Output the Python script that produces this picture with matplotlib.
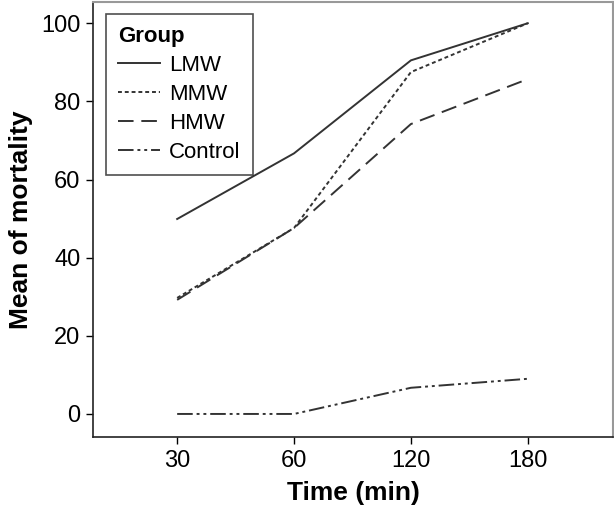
import matplotlib
matplotlib.use("Agg")
from matplotlib import pyplot as plt

plt.rcParams['font.family'] = ['Liberation Sans', 'DejaVu Sans']

times = ["30", "60", "120", "180"]
lmw = [49.9, 66.7, 90.5, 100.0]
mmw = [29.7, 47.6, 87.5, 100.0]
hmw = [29.2, 47.6, 74.2, 85.7]
control = [0.0, 0.0, 6.7, 9.0]

x = range(len(times))
line_color = "#333333"

fig = plt.figure(figsize=(6.14, 5.11), dpi=100)
ax = fig.add_axes([0.1515, 0.1448, 0.847, 0.851])

ax.plot(x, lmw, color=line_color, lw=1.4, linestyle="-", label="LMW")
ax.plot(x, mmw, color=line_color, lw=1.4, linestyle=(0, (2, 1.5)), label="MMW")
ax.plot(x, hmw, color=line_color, lw=1.4, linestyle=(0, (8, 4)), label="HMW")
ax.plot(x, control, color=line_color, lw=1.4, linestyle=(0, (8, 2, 1.5, 2, 1.5, 2)), label="Control")

ax.set_xticks(list(x))
ax.set_xticklabels(times)
ax.set_xlim(-0.72, 3.73)
ax.set_ylim(-5.9, 105.4)
ax.set_yticks([0, 20, 40, 60, 80, 100])

ax.tick_params(direction="out", length=5, width=1, labelsize=17, pad=4)
for side in ["top", "right"]:
    ax.spines[side].set_color("#999999")
    ax.spines[side].set_linewidth(1.5)
for side in ["left", "bottom"]:
    ax.spines[side].set_color("#222222")
    ax.spines[side].set_linewidth(1.2)

ax.set_xlabel("Time (min)", fontsize=19, fontweight="bold", labelpad=7)
ax.set_ylabel("Mean of mortality", fontsize=19, fontweight="bold", labelpad=6)

leg = ax.legend(title="Group", loc="upper left", bbox_to_anchor=(0.025, 0.973),
                fontsize=16, frameon=True, fancybox=False, edgecolor="#222222",
                handlelength=1.9, handletextpad=0.4, borderpad=0.55, labelspacing=0.36,
                borderaxespad=0, alignment="left")
leg.get_title().set_fontweight("bold")
leg.get_title().set_fontsize(16)
leg.get_frame().set_linewidth(1.2)

fig.savefig("out.png", dpi=100)
